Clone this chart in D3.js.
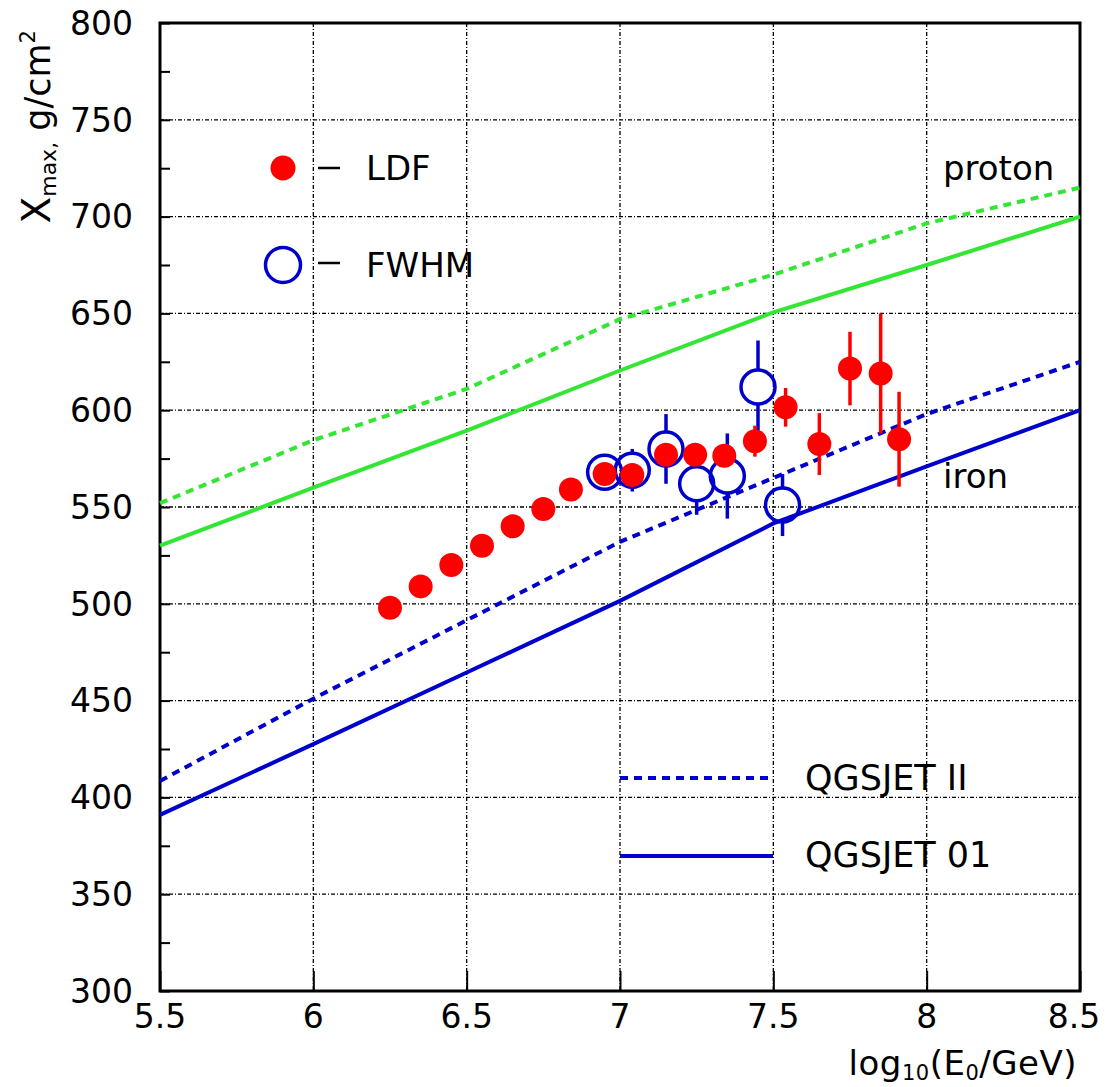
<!DOCTYPE html>
<html>
<head>
<meta charset="utf-8">
<script src="https://cdn.jsdelivr.net/npm/d3@7"></script>
<style>
  body { margin: 0; background: #fff; }
  text { font-family: "DejaVu Sans", sans-serif; fill: #000; }
</style>
</head>
<body>
<div id="viz"></div>
<script>
// model curves, read at half-decade steps
const energyGrid = [5.5, 6, 6.5, 7, 7.5, 8, 8.5];
const protonQGSII = [552, 584.5, 611, 647, 670, 696.5, 715];
const protonQGS01 = [530, 560, 589.5, 620.5, 650.5, 675, 700];
const ironQGSII = [408.5, 451, 491.5, 532, 565, 598, 625];
const ironQGS01 = [391, 427.5, 464.5, 501.5, 541.5, 571, 600];

// LDF measurements
const ldfLgE = [6.25, 6.35, 6.45, 6.55, 6.65, 6.75, 6.84, 6.95, 7.04, 7.15, 7.245, 7.34, 7.44, 7.54, 7.65, 7.75, 7.85, 7.91];
const ldfXmax = [498, 509, 520, 530, 540, 549, 559, 567, 566.5, 577, 577, 576.5, 584, 601.5, 582.5, 621.5, 619, 585];
const ldfErr = [0, 0, 0, 0, 0, 0, 0, 0, 0, 0, 0, 0, 8, 10, 16, 19, 31, 24.5];

// FWHM measurements
const fwhmLgE = [6.95, 7.04, 7.15, 7.25, 7.35, 7.45, 7.53];
const fwhmXmax = [568, 569, 580, 562, 566, 612, 551];
const fwhmErr = [5, 11, 18, 16, 22, 24, 16];

const xTicks = [5.5, 6, 6.5, 7, 7.5, 8, 8.5];
const yTicks = [300, 350, 400, 450, 500, 550, 600, 650, 700, 750, 800];

const GREEN = "#33e633";
const BLUE = "#0000cc";
const RED = "#ff0000";

const W = 1112, H = 1087;
const pL = 160, pR = 1080, pT = 23, pB = 991;

const svg = d3.select("#viz").append("svg")
  .attr("width", W)
  .attr("height", H);

const x = d3.scaleLinear().domain([5.5, 8.5]).range([pL, pR]);
const y = d3.scaleLinear().domain([300, 800]).range([pB, pT]);

// grid
const grid = svg.append("g")
  .attr("stroke", "#000")
  .attr("stroke-width", 1.3)
  .attr("stroke-dasharray", "4,2,1,2");
grid.selectAll(".gx").data(xTicks.slice(1, -1)).join("line")
  .attr("x1", d => x(d)).attr("x2", d => x(d))
  .attr("y1", pT).attr("y2", pB);
grid.selectAll(".gy").data(yTicks.slice(1, -1)).join("line")
  .attr("x1", pL).attr("x2", pR)
  .attr("y1", d => y(d)).attr("y2", d => y(d));

// axes with inward ticks
svg.append("g")
  .attr("transform", `translate(${pL},0)`)
  .call(d3.axisLeft(y).tickValues(d3.range(300, 801, 25)).tickSize(-10).tickFormat(""));
svg.append("g")
  .attr("transform", `translate(0,${pB})`)
  .call(d3.axisBottom(x).tickValues(xTicks).tickSize(-20).tickFormat(""));
svg.selectAll(".domain").remove();
svg.selectAll(".tick line").attr("stroke", "#000").attr("stroke-width", 2);

svg.append("rect")
  .attr("x", pL).attr("y", pT)
  .attr("width", pR - pL).attr("height", pB - pT)
  .attr("fill", "none").attr("stroke", "#000").attr("stroke-width", 3);

// tick labels
svg.append("g").selectAll("text").data(yTicks).join("text")
  .attr("x", 133).attr("y", d => y(d)).attr("dy", "0.36em")
  .attr("text-anchor", "end").attr("font-size", 33)
  .text(d => d);
svg.append("g").selectAll("text").data(xTicks).join("text")
  .attr("x", d => Math.min(x(d), 1074)).attr("y", 1028)
  .attr("text-anchor", "middle").attr("font-size", 33)
  .text(d => d);

// axis titles
const xt = svg.append("text")
  .attr("x", 1077).attr("y", 1075)
  .attr("text-anchor", "end").attr("font-size", 34)
  .attr("letter-spacing", 0.5);
xt.append("tspan").text("log");
xt.append("tspan").attr("font-size", 21).attr("dy", 5).text("10");
xt.append("tspan").attr("dy", -5).text("(E");
xt.append("tspan").attr("font-size", 21).attr("dy", 5).text("0");
xt.append("tspan").attr("dy", -5).text("/GeV)");

const yt = svg.append("text")
  .attr("transform", "translate(50,30) rotate(-90)")
  .attr("text-anchor", "end").attr("font-size", 35);
yt.append("tspan").attr("font-size", 39).text("X");
yt.append("tspan").attr("font-size", 22).attr("dy", 6).text("max,");
yt.append("tspan").attr("dy", -6).text(" g/cm");
yt.append("tspan").attr("font-size", 21).attr("dy", -15).text("2");

// model lines
const line = d3.line().x(d => x(d[0])).y(d => y(d[1]));
const curves = [
  { vals: protonQGSII, color: GREEN, dash: "8,6" },
  { vals: protonQGS01, color: GREEN, dash: null },
  { vals: ironQGSII, color: BLUE, dash: "8,6" },
  { vals: ironQGS01, color: BLUE, dash: null }
];
curves.forEach(c => {
  svg.append("path")
    .datum(energyGrid.map((e, i) => [e, c.vals[i]]))
    .attr("d", line)
    .attr("fill", "none")
    .attr("stroke", c.color)
    .attr("stroke-width", 4)
    .attr("stroke-dasharray", c.dash);
});

// FWHM points: open circles, error bars outside the ring
const R = 17;
const fwhm = fwhmLgE.map((e, i) => ({ e, v: fwhmXmax[i], err: fwhmErr[i] }));
const fg = svg.append("g");
fwhm.forEach(d => {
  const cx = x(d.e), cy = y(d.v);
  const yHi = y(d.v + d.err), yLo = y(d.v - d.err);
  if (yHi < cy - R) fg.append("line").attr("x1", cx).attr("x2", cx).attr("y1", yHi).attr("y2", cy - R);
  if (yLo > cy + R) fg.append("line").attr("x1", cx).attr("x2", cx).attr("y1", cy + R).attr("y2", yLo);
});
fg.selectAll("line").attr("stroke", BLUE).attr("stroke-width", 3.5);
fg.selectAll("circle").data(fwhm).join("circle")
  .attr("cx", d => x(d.e)).attr("cy", d => y(d.v)).attr("r", R)
  .attr("fill", "none").attr("stroke", BLUE).attr("stroke-width", 3.5);

// LDF points
const ldf = ldfLgE.map((e, i) => ({ e, v: ldfXmax[i], err: ldfErr[i] }));
const lg = svg.append("g");
lg.selectAll("line").data(ldf.filter(d => d.err > 0)).join("line")
  .attr("x1", d => x(d.e)).attr("x2", d => x(d.e))
  .attr("y1", d => y(d.v + d.err)).attr("y2", d => y(d.v - d.err))
  .attr("stroke", RED).attr("stroke-width", 3.5);
lg.selectAll("circle").data(ldf).join("circle")
  .attr("cx", d => x(d.e)).attr("cy", d => y(d.v)).attr("r", 12)
  .attr("fill", RED);

// legend (markers)
svg.append("circle").attr("cx", 283).attr("cy", 168).attr("r", 12.5).attr("fill", RED);
svg.append("circle").attr("cx", 283).attr("cy", 265).attr("r", 17.5)
  .attr("fill", "none").attr("stroke", BLUE).attr("stroke-width", 3.5);
[168, 263].forEach(yy => {
  svg.append("line").attr("x1", 318).attr("x2", 340).attr("y1", yy).attr("y2", yy)
    .attr("stroke", "#000").attr("stroke-width", 2.5);
});
svg.append("text").attr("x", 366).attr("y", 180).attr("font-size", 34).text("LDF");
svg.append("text").attr("x", 366).attr("y", 277).attr("font-size", 34).text("FWHM");

// legend (models)
svg.append("line").attr("x1", 620).attr("x2", 768).attr("y1", 778).attr("y2", 778)
  .attr("stroke", BLUE).attr("stroke-width", 4).attr("stroke-dasharray", "8,6");
svg.append("line").attr("x1", 620).attr("x2", 773).attr("y1", 856).attr("y2", 856)
  .attr("stroke", BLUE).attr("stroke-width", 4);
svg.append("text").attr("x", 805).attr("y", 790).attr("font-size", 35).text("QGSJET II");
svg.append("text").attr("x", 805).attr("y", 867).attr("font-size", 35).text("QGSJET 01");

svg.append("text").attr("x", 943).attr("y", 180).attr("font-size", 34).text("proton");
svg.append("text").attr("x", 943).attr("y", 488).attr("font-size", 34).text("iron");
</script>
</body>
</html>
